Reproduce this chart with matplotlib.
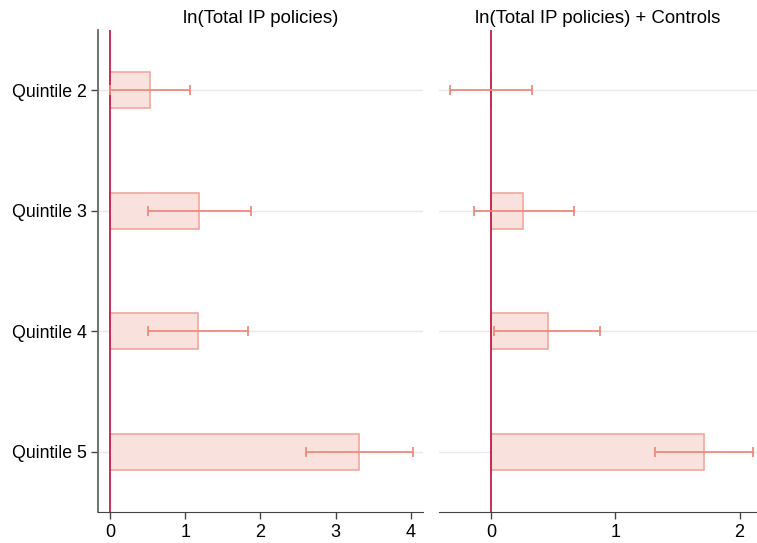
import numpy as np
import matplotlib.pyplot as plt

plt.rcParams['font.family'] = ['Liberation Sans', 'DejaVu Sans']

quintiles = ['Quintile 2', 'Quintile 3', 'Quintile 4', 'Quintile 5']
titles = ['ln(Total IP policies)', 'ln(Total IP policies) + Controls']

# point estimates and confidence bounds
est_base = [0.53, 1.18, 1.17, 3.31]
lo_base = [0.0, 0.50, 0.50, 2.60]
hi_base = [1.07, 1.87, 1.83, 4.03]

est_ctrl = [0.0, 0.26, 0.46, 1.71]
lo_ctrl = [-0.33, -0.14, 0.02, 1.32]
hi_ctrl = [0.33, 0.67, 0.88, 2.11]

fill_c = '#f9e1dd'
edge_c = '#f3a79c'
err_c = '#ef8b7d'
zero_c = '#c41f4a'

fig = plt.figure(figsize=(7.57, 5.43), dpi=100)
ax1 = fig.add_axes([0.129, 0.0571, 0.4297, 0.8877])
ax2 = fig.add_axes([0.580, 0.0571, 0.420, 0.8877])

ypos = np.arange(2, 6)


def panel(ax, est, lo, hi, title, xlim, xticks):
    est = np.array(est)
    lo = np.array(lo)
    hi = np.array(hi)
    for y in ypos:
        ax.axhline(y, color='#e9e9e9', lw=1, zorder=0)
    ax.barh(ypos, est, height=0.3, color=fill_c, edgecolor=edge_c, lw=1.2, zorder=2)
    ax.axvline(0, color=zero_c, lw=1.3, zorder=3)
    ax.errorbar(est, ypos, xerr=[est - lo, hi - est], fmt='none', ecolor=err_c,
                elinewidth=1.3, capsize=3.5, capthick=1.3, zorder=4)
    ax.set_xlim(*xlim)
    ax.set_ylim(5.5, 1.5)
    ax.set_xticks(xticks)
    ax.set_title(title, fontsize=13.4, pad=5)
    ax.tick_params(axis='x', labelsize=13, length=5, width=1, color='#444444', pad=4)
    ax.spines['top'].set_visible(False)
    ax.spines['right'].set_visible(False)
    ax.spines['bottom'].set_color('#444444')
    ax.spines['left'].set_color('#666666')
    ax.spines['left'].set_linewidth(1.3)


panel(ax1, est_base, lo_base, hi_base, titles[0], (-0.164, 4.16), [0, 1, 2, 3, 4])
ax1.set_yticks(ypos)
ax1.set_yticklabels(quintiles, fontsize=12.8)
ax1.tick_params(axis='y', length=5, width=1, color='#444444', pad=3)

panel(ax2, est_ctrl, lo_ctrl, hi_ctrl, titles[1], (-0.418, 2.14), [0, 1, 2])
ax2.spines['left'].set_visible(False)
ax2.set_yticks([])

fig.savefig('out.png', dpi=100)
